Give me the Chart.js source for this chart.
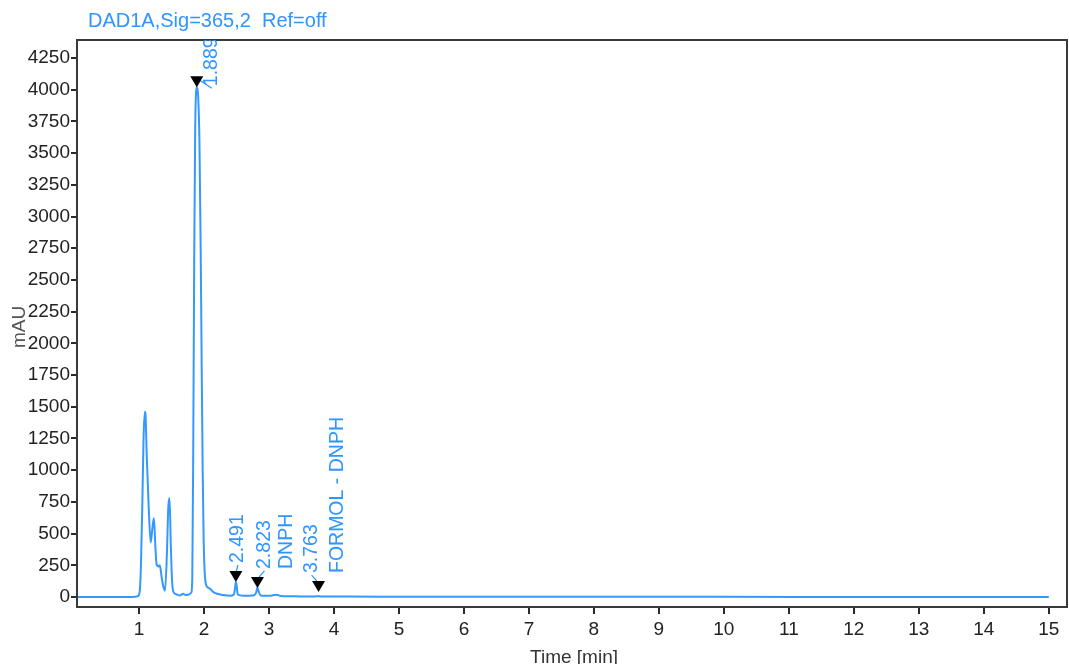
<!DOCTYPE html>
<html>
<head>
<meta charset="utf-8">
<script src="https://cdn.jsdelivr.net/npm/chart.js@4"></script>
<style>
  html, body { margin: 0; padding: 0; background: #fff; }
  #wrap { width: 1069px; height: 664px; position: relative; }
</style>
</head>
<body>
<div id="wrap"><canvas id="chrom"></canvas></div>
<script>
// --- data ---
const timeMin = [0.05, 0.5, 0.9, 0.98, 1.01, 1.03, 1.05, 1.07, 1.09, 1.10, 1.12, 1.15, 1.18, 1.21, 1.23, 1.25, 1.27, 1.30, 1.32, 1.35, 1.38, 1.40, 1.43, 1.45, 1.47, 1.49, 1.51, 1.53, 1.58, 1.63, 1.68, 1.72, 1.77, 1.805, 1.82, 1.835, 1.85, 1.865, 1.88, 1.895, 1.91, 1.93, 1.95, 1.965, 1.98, 1.995, 2.01, 2.03, 2.06, 2.10, 2.14, 2.20, 2.30, 2.40, 2.46, 2.48, 2.491, 2.50, 2.52, 2.60, 2.75, 2.80, 2.823, 2.84, 2.87, 2.95, 3.05, 3.12, 3.18, 3.40, 3.70, 3.763, 3.85, 4.2, 5, 6, 8, 10, 12, 14, 15];
const mAU     = [0,    0,   0,   5,    40,   250,  700,  1250, 1460, 1440, 1100, 700,  430,  560,  620,  420,  260,  240,  250,  150,  70,   50,   350,  700,  780,  400,  120,  40,   20,   12,   25,   15,   20,   35,    150,  1200,  2700, 3700,  3990, 4020,  3950, 3600, 2700, 1800,  1000, 450,   200,  100,  75,   62,   40,   25,   15,   10,   20,   80,   118,   100,  20,   10,   12,   30,   75,    45,   12,   10,   12,   18,   8,    5,    4,    6,     3,    3,   2, 1, 1, 1, 0, 0, 0];

// peak annotations
const peakTimes  = [1.889, 2.491, 2.823, 3.763];
const peakMarkY  = [4020, 118, 71, 39];
const peakLabels = [['1.889'], ['2.491'], ['2.823', 'DNPH'], ['3.763', 'FORMOL - DNPH']];

// tick labels
const xTicks = [1, 2, 3, 4, 5, 6, 7, 8, 9, 10, 11, 12, 13, 14, 15];
const yTicks = [0, 250, 500, 750, 1000, 1250, 1500, 1750, 2000, 2250, 2500, 2750, 3000, 3250, 3500, 3750, 4000, 4250];

// label placement relative to the marker (px): [dx, dy of text start, gap to 2nd line]
const labelLayout = [[15, 10, 0], [2, -8, 0], [7, -8, 22], [-7, -8, 26]];

const blue = '#2f95ff';
const axisColor = '#2a2a2a';
Chart.defaults.font.family = '"Liberation Sans", Arial, sans-serif';

const overlay = {
  id: 'overlay',
  afterDraw(chart) {
    const ctx = chart.ctx;
    const a = chart.chartArea;
    const xs = chart.scales.x, ys = chart.scales.y;
    ctx.save();
    // frame
    ctx.strokeStyle = '#3a3a3a';
    ctx.lineWidth = 2;
    ctx.strokeRect(a.left, a.top, a.right - a.left, a.bottom - a.top);

    // signal title
    ctx.fillStyle = blue;
    ctx.font = '20px "Liberation Sans", Arial, sans-serif';
    ctx.textBaseline = 'alphabetic';
    ctx.textAlign = 'left';
    ctx.fillText('DAD1A,Sig=365,2  Ref=off', 88, 27);

    // axis titles
    ctx.fillStyle = '#333';
    ctx.font = '19px "Liberation Sans", Arial, sans-serif';
    ctx.textAlign = 'center';
    ctx.fillText('Time [min]', 574, 663);
    ctx.save();
    ctx.translate(25, 327);
    ctx.rotate(-Math.PI / 2);
    ctx.fillStyle = '#555';
    ctx.fillText('mAU', 0, 0);
    ctx.restore();

    // markers + rotated labels, clipped to plot
    ctx.beginPath();
    ctx.rect(a.left, a.top, a.right - a.left, a.bottom - a.top);
    ctx.clip();
    peakTimes.forEach((t, i) => {
      const px = xs.getPixelForValue(t);
      const py = ys.getPixelForValue(peakMarkY[i]);
      const [dx, dy, gap] = labelLayout[i];
      const top = py - 11;
      // leader
      ctx.strokeStyle = blue;
      ctx.lineWidth = 1.2;
      ctx.beginPath();
      ctx.moveTo(px, top + 2);
      ctx.lineTo(px + dx, top + dy + 2);
      ctx.stroke();
      // triangle
      ctx.fillStyle = '#000';
      ctx.beginPath();
      ctx.moveTo(px - 6.5, top);
      ctx.lineTo(px + 6.5, top);
      ctx.lineTo(px, py);
      ctx.closePath();
      ctx.fill();
      // text
      ctx.fillStyle = blue;
      ctx.font = '19.5px "Liberation Sans", Arial, sans-serif';
      ctx.textAlign = 'left';
      ctx.textBaseline = 'middle';
      peakLabels[i].forEach((txt, j) => {
        ctx.save();
        ctx.translate(px + dx + j * gap, top + dy);
        ctx.rotate(-Math.PI / 2);
        ctx.fillText(txt, 0, 0);
        ctx.restore();
      });
    });
    ctx.restore();
  }
};

new Chart(document.getElementById('chrom'), {
  type: 'line',
  data: {
    datasets: [{
      data: timeMin.map((t, i) => ({ x: t, y: mAU[i] })),
      borderColor: '#3399ff',
      borderWidth: 2,
      pointRadius: 0,
      cubicInterpolationMode: 'monotone',
      fill: false
    }]
  },
  options: {
    responsive: true,
    maintainAspectRatio: false,
    animation: false,
    layout: { padding: { top: 40, right: 2, left: 0, bottom: 0 } },
    plugins: { legend: { display: false }, tooltip: { enabled: false }, title: { display: false } },
    scales: {
      x: {
        type: 'linear',
        min: 0.046,
        max: 15.28,
        afterBuildTicks: s => { s.ticks = xTicks.map(v => ({ value: v })); },
        afterFit: s => { s.height = 57; },
        grid: { drawOnChartArea: false, drawTicks: true, tickLength: 7, color: axisColor, lineWidth: 2 },
        border: { display: true, color: axisColor, width: 2 },
        ticks: { color: '#222', font: { size: 19 }, padding: 4, maxRotation: 0, autoSkip: false, callback: v => String(v) }
      },
      y: {
        type: 'linear',
        min: -79,
        max: 4392,
        afterBuildTicks: s => { s.ticks = yTicks.map(v => ({ value: v })); },
        afterFit: s => { s.width = 77; },
        grid: { drawOnChartArea: false, drawTicks: true, tickLength: 6, color: axisColor, lineWidth: 2 },
        border: { display: true, color: axisColor, width: 2 },
        ticks: { color: '#222', font: { size: 19 }, padding: 1, autoSkip: false, callback: v => String(v) }
      }
    }
  },
  plugins: [overlay]
});
</script>
</body>
</html>
